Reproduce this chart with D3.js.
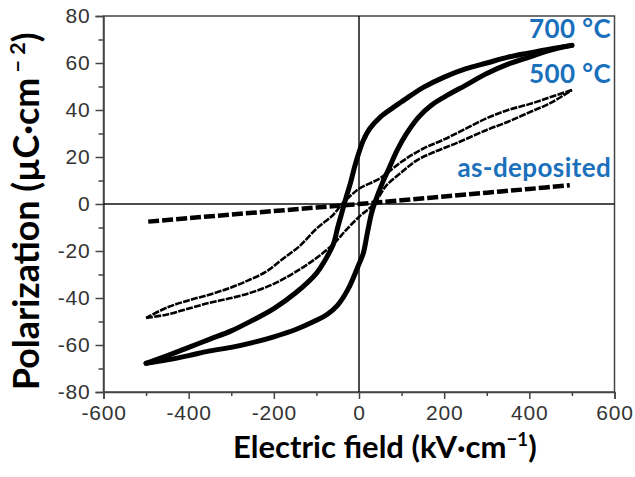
<!DOCTYPE html>
<html>
<head>
<meta charset="utf-8">
<script src="https://cdn.jsdelivr.net/npm/d3@7"></script>
<style>
  html, body { margin: 0; padding: 0; background: #fff; }
  svg { display: block; }
</style>
</head>
<body>
<svg id="chart" width="635" height="477"></svg>
<script>
// P–E hysteresis loops of films after different annealing treatments.
// Field E in kV/cm, polarization P in µC/cm².

const xTicks = [-600, -400, -200, 0, 200, 400, 600];
const yTicks = [-80, -60, -40, -20, 0, 20, 40, 60, 80];

// 700 °C: branch swept from +500 down to -500
const loop700Down = [
  [500, 67.5], [450, 66], [400, 64.3], [350, 62.5], [300, 60], [250, 57.5],
  [200, 54], [150, 49.5], [120, 46], [100, 43.5], [80, 41], [50, 37], [25, 32],
  [10, 27], [0, 22], [-10, 16], [-20, 9], [-30, 3], [-40, -3.5], [-50, -10],
  [-60, -17], [-80, -24], [-100, -29.5], [-150, -38], [-200, -44.5],
  [-250, -49.5], [-300, -54], [-350, -57.5], [-400, -61], [-450, -64.5], [-500, -67.8]
];
// 700 °C: branch swept from -500 up to +500
const loop700Up = [
  [-500, -67.8], [-450, -66.3], [-400, -64.5], [-350, -62.5], [-300, -61],
  [-250, -59], [-200, -56.5], [-150, -53.5], [-100, -49.5], [-75, -47],
  [-50, -43], [-25, -36], [0, -25.5], [10, -21], [20, -12], [30, -3.5],
  [40, 2], [55, 9], [70, 15], [90, 23], [110, 29.5], [140, 37], [170, 42],
  [200, 45.5], [250, 50.5], [300, 55.5], [350, 59.5], [400, 62.5], [450, 65.5], [500, 67.5]
];

// 500 °C
const loop500Down = [
  [500, 48.5], [450, 45.5], [400, 42.5], [350, 40], [300, 36.5], [250, 32],
  [200, 27.5], [150, 23.5], [100, 18], [50, 11], [0, 6.5], [-20, 3.5],
  [-40, 0], [-60, -4.5], [-100, -10.5], [-140, -18], [-180, -23.5],
  [-220, -29], [-260, -32.5], [-300, -35.5], [-350, -38.5], [-400, -41],
  [-450, -44], [-500, -48.5]
];
const loop500Up = [
  [-500, -48.5], [-450, -47], [-400, -44.5], [-350, -42], [-300, -40],
  [-250, -37.5], [-200, -34], [-150, -29], [-100, -23], [-60, -17],
  [-30, -11], [0, -5.5], [35, 0], [65, 8], [100, 13.5], [135, 18.5],
  [175, 22], [230, 26], [300, 31.5], [350, 35], [400, 39], [450, 43], [500, 48.5]
];

// As-deposited: almost linear, no visible loop
const asDeposited = [
  [-495, -7.5], [-400, -6], [-300, -4.5], [-200, -3], [-100, -1.5], [0, 0],
  [100, 1.6], [200, 3.2], [300, 4.8], [400, 6.4], [495, 8]
];

const seriesLabels = ["700 °C", "500 °C", "as-deposited"];

const svg = d3.select("#chart");
const W = 635, H = 477;
const margin = { left: 103.5, right: W - 614.5, top: 16, bottom: H - 392 };

const x = d3.scaleLinear().domain([-600, 600]).range([margin.left, W - margin.right]);
const y = d3.scaleLinear().domain([-80, 80]).range([H - margin.bottom, margin.top]);

const frameInk = "#444";
const tickFont = "'Liberation Sans', Arial, sans-serif";
const titleFont = "Lato, 'Open Sans', sans-serif";
const blue = "#1a70bb";

// Frame
svg.append("rect")
  .attr("x", x(-600)).attr("y", y(80))
  .attr("width", x(600) - x(-600)).attr("height", y(-80) - y(80))
  .attr("fill", "none").attr("stroke", frameInk).attr("stroke-width", 1.5);

const fmt = d => d < 0 ? "-" + Math.abs(d) : String(d);

// Bottom axis: major + minor ticks
const gx = svg.append("g").attr("transform", `translate(0,${y(-80)})`)
  .call(d3.axisBottom(x).tickValues(xTicks).tickSize(7).tickPadding(6).tickFormat(fmt));
gx.select(".domain").attr("stroke", frameInk).attr("stroke-width", 1.5);
gx.selectAll(".tick line").attr("stroke", frameInk).attr("stroke-width", 1.5);
gx.selectAll(".tick text")
  .attr("font-family", tickFont).attr("font-size", 21).attr("fill", "#333")
  .attr("letter-spacing", 0.8);
const gxm = svg.append("g").attr("transform", `translate(0,${y(-80)})`)
  .call(d3.axisBottom(x).tickValues(d3.range(-500, 600, 200)).tickSize(4).tickFormat(""));
gxm.select(".domain").remove();
gxm.selectAll(".tick line").attr("stroke", frameInk).attr("stroke-width", 1.5);

// Left axis: major + minor ticks
const gy = svg.append("g").attr("transform", `translate(${x(-600)},0)`)
  .call(d3.axisLeft(y).tickValues(yTicks).tickSize(8).tickPadding(5).tickFormat(fmt));
gy.select(".domain").attr("stroke", frameInk).attr("stroke-width", 1.5);
gy.selectAll(".tick line").attr("stroke", frameInk).attr("stroke-width", 1.5);
gy.selectAll(".tick text")
  .attr("font-family", tickFont).attr("font-size", 21).attr("fill", "#333")
  .attr("letter-spacing", 0.8);
const gym = svg.append("g").attr("transform", `translate(${x(-600)},0)`)
  .call(d3.axisLeft(y).tickValues(d3.range(-70, 80, 20)).tickSize(5).tickFormat(""));
gym.select(".domain").remove();
gym.selectAll(".tick line").attr("stroke", frameInk).attr("stroke-width", 1.5);

// Zero lines
svg.append("line")
  .attr("x1", x(-600)).attr("x2", x(600)).attr("y1", y(0)).attr("y2", y(0))
  .attr("stroke", "#111").attr("stroke-width", 1.5);
svg.append("line")
  .attr("x1", x(0)).attr("x2", x(0)).attr("y1", y(80)).attr("y2", y(-80))
  .attr("stroke", "#111").attr("stroke-width", 1.5);

const line = d3.line()
  .x(d => x(d[0])).y(d => y(d[1]))
  .curve(d3.curveCatmullRom.alpha(0.5));

// As-deposited: thick dashed trace
svg.append("path").datum(asDeposited)
  .attr("d", line).attr("fill", "none")
  .attr("stroke", "#000").attr("stroke-width", 4.5)
  .attr("stroke-dasharray", "11,3");

// 500 °C: thin dense-marker trace
[loop500Down, loop500Up].forEach(branch => {
  svg.append("path").datum(branch)
    .attr("d", line).attr("fill", "none")
    .attr("stroke", "#000").attr("stroke-width", 2.6)
    .attr("stroke-dasharray", "7,1.2");
});

// 700 °C: heavy marker trace
[loop700Down, loop700Up].forEach(branch => {
  svg.append("path").datum(branch)
    .attr("d", line).attr("fill", "none")
    .attr("stroke", "#000").attr("stroke-width", 5)
    .attr("stroke-linejoin", "round").attr("stroke-linecap", "round");
});

// Series labels, right-aligned just inside the frame
const labelPos = [
  { text: seriesLabels[0], yv: 70.7 },
  { text: seriesLabels[1], yv: 51.5 },
  { text: seriesLabels[2], yv: 11.4 }
];
svg.selectAll("text.series").data(labelPos).enter().append("text")
  .attr("class", "series")
  .attr("x", x(592)).attr("y", d => y(d.yv))
  .attr("text-anchor", "end")
  .attr("font-family", titleFont).attr("font-weight", 700)
  .attr("font-size", 26).attr("letter-spacing", 0.4).attr("fill", blue)
  .text(d => d.text);

// Axis titles, sized to span their measured extents
function fitTitle(node, target) {
  const len = node.getComputedTextLength();
  return 28 * target / len;
}

const xt = svg.append("text")
  .attr("x", 233).attr("y", 458)
  .attr("text-anchor", "start")
  .attr("font-family", titleFont).attr("font-weight", 700)
  .attr("font-size", 28).attr("fill", "#000");
xt.append("tspan").attr("class", "main").text("Electric field (kV·cm");
const xsup = xt.append("tspan").attr("font-size", 17).attr("dy", -11).text("−1");
const xclose = xt.append("tspan").attr("dy", 11).text(")");
{
  const fs = fitTitle(xt.node(), 304);
  xt.attr("font-size", fs);
  xsup.attr("font-size", fs * 0.6).attr("dy", -fs * 0.4);
  xclose.attr("dy", fs * 0.4);
}

const yt = svg.append("text")
  .attr("transform", "translate(39,390) rotate(-90)")
  .attr("text-anchor", "start")
  .attr("font-family", titleFont).attr("font-weight", 700)
  .attr("font-size", 28).attr("fill", "#000");
yt.append("tspan").text("Polarization (µC·cm");
const ysup = yt.append("tspan").attr("font-size", 17).attr("dy", -11).text(" − 2");
const yclose = yt.append("tspan").attr("dy", 11).text(")");
{
  const fs = fitTitle(yt.node(), 358);
  yt.attr("font-size", fs);
  ysup.attr("font-size", fs * 0.6).attr("dy", -fs * 0.4);
  yclose.attr("dy", fs * 0.4);
}
</script>
</body>
</html>
